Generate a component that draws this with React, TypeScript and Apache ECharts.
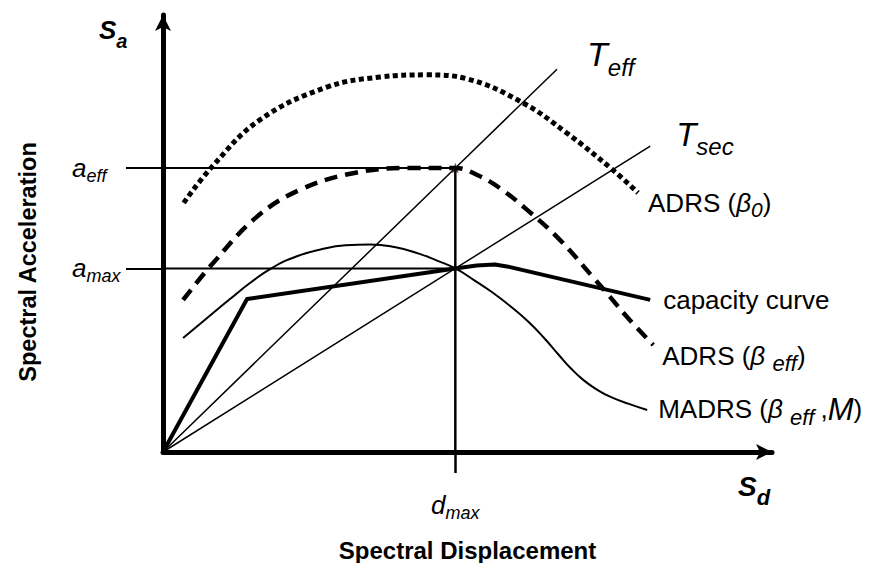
import React, { useEffect, useRef } from 'react';
import * as echarts from 'echarts';

// key values (schematic units)
const dMax = 48;
const aEff = 65;
const aMax = 42;

const adrsB0: [number, number][] = [
  [3.4, 57.0], [8.0, 65.2], [15.9, 76.0], [26.9, 83.5], [35.6, 85.8], [43.3, 86.3],
  [49.9, 85.4], [59.1, 79.9], [66.3, 73.0], [73.9, 64.5], [78.0, 59.3],
];
const adrsBeff: [number, number][] = [
  [3.3, 34.8], [8.2, 43.2], [15.4, 53.8], [22.5, 60.0], [31.2, 63.8], [40.6, 65.0],
  [48, 65], [51.6, 63.4], [55.3, 60.4], [59.8, 55.4], [65.2, 48.5], [70.6, 40.0],
  [73.4, 35.5], [76.2, 30.9], [80.5, 24.5],
];
const madrs: [number, number][] = [
  [3.3, 26.1], [7, 30.4], [11, 35.0], [14.5, 38.9], [18, 42.2], [22, 44.8], [26, 46.4],
  [30, 47.3], [34, 47.5], [38, 46.9], [42, 45.4], [45, 43.8], [48, 42], [51, 39.4],
  [54, 36.6], [57, 33.4], [60, 29.8], [62.5, 26.2], [65, 22.2], [67, 19.1], [69, 16.5],
  [71, 14.5], [73.5, 12.6], [76.5, 11.0], [79.5, 9.6],
];
const capacity: [number, number][] = [
  [0, 0], [13.8, 35.0], [48, 42], [51.5, 42.7], [54.5, 42.9], [57, 42.3], [80.0, 34.8],
];
const tEffLine: [number, number][] = [[0, 0], [48, 65], [64.7, 87.6]];
const tSecLine: [number, number][] = [[0, 0], [48, 42], [80, 70]];
const dMaxLine: [number, number][] = [[dMax, 0], [dMax, aEff]];
const aEffLine: [number, number][] = [[0, aEff], [dMax, aEff]];
const aMaxLine: [number, number][] = [[0, aMax], [dMax, aMax]];
const perfPoint: [number, number][] = [[dMax, aEff]];

const FONT = 'Liberation Sans, Arial, sans-serif';

const richSub = (mainSize: number, subSize: number, italicMain: boolean, drop: number) => ({
  m: { fontFamily: FONT, fontSize: mainSize, fontStyle: italicMain ? 'italic' : 'normal', color: '#000' },
  n: { fontFamily: FONT, fontSize: mainSize, color: '#000' },
  g: { fontFamily: FONT, fontSize: mainSize, fontStyle: 'italic', color: '#000' },
  M: { fontFamily: FONT, fontSize: mainSize + 5, fontStyle: 'italic', color: '#000' },
  s: { fontFamily: FONT, fontSize: subSize, fontStyle: 'italic', color: '#000', padding: [drop * 2, 0, 0, 0] },
});

function lineSeries(data: [number, number][], width: number, type: any, extra: any = {}) {
  return {
    type: 'line',
    data,
    symbol: 'none',
    silent: true,
    lineStyle: { color: '#000', width, type, cap: 'butt', join: 'round' },
    ...extra,
  };
}

export default function App() {
  const ref = useRef<HTMLDivElement>(null);
  useEffect(() => {
    if (!ref.current) return;
    const chart = echarts.init(ref.current, undefined, { renderer: 'svg' });
    chart.setOption({
      animation: false,
      backgroundColor: '#fff',
      grid: { left: 163, right: 110, top: 15, bottom: 111, containLabel: false, outerBoundsMode: 'none' },
      xAxis: {
        type: 'value', min: 0, max: 100,
        name: 'Spectral Displacement', nameLocation: 'middle', nameGap: 86,
        nameTextStyle: { fontFamily: FONT, fontSize: 24, fontWeight: 'bold', color: '#000' },
        axisLine: { show: true, lineStyle: { color: '#000', width: 5 }, symbol: ['none', 'arrow'], symbolSize: [12, 16] },
        axisTick: { show: true, customValues: [dMax], length: 21, lineStyle: { color: '#000', width: 2.5 } },
        axisLabel: {
          show: true, customValues: [dMax], margin: 36,
          formatter: () => '{m|d}{s|max}',
          rich: richSub(26, 18, true, 8),
        },
        splitLine: { show: false },
      },
      yAxis: {
        type: 'value', min: 0, max: 100,
        axisLine: { show: true, lineStyle: { color: '#000', width: 5 }, symbol: ['none', 'arrow'], symbolSize: [12, 16] },
        axisTick: { show: true, customValues: [aMax, aEff], length: 37, lineStyle: { color: '#000', width: 2 } },
        axisLabel: {
          show: true, customValues: [aMax, aEff], margin: 91, align: 'left',
          formatter: (v: number) => (v === aEff ? '{m|a}{s|eff}' : '{m|a}{s|max}'),
          rich: richSub(26, 18, true, 8),
        },
        splitLine: { show: false },
      },
      graphic: [
        {
          type: 'text', left: 99, top: 17,
          style: {
            text: '{m|S}{s|a}',
            rich: {
              m: { fontFamily: FONT, fontSize: 26, fontWeight: 'bold', fontStyle: 'italic', fill: '#000' },
              s: { fontFamily: FONT, fontSize: 20, fontWeight: 'bold', fontStyle: 'italic', fill: '#000', padding: [22, 0, 0, 0] },
            },
          },
        },
        {
          type: 'text', left: 738, top: 472,
          style: {
            text: '{m|S}{s|d}',
            rich: {
              m: { fontFamily: FONT, fontSize: 28, fontWeight: 'bold', fontStyle: 'italic', fill: '#000' },
              s: { fontFamily: FONT, fontSize: 22, fontWeight: 'bold', fontStyle: 'italic', fill: '#000', padding: [22, 0, 0, 0] },
            },
          },
        },
        {
          type: 'text', x: 28, y: 262, rotation: Math.PI / 2,
          style: {
            text: 'Spectral Acceleration', fontFamily: FONT, fontSize: 23.5, fontWeight: 'bold', fill: '#000',
            align: 'center', verticalAlign: 'middle',
          },
        },
      ],
      series: [
        lineSeries(aEffLine, 2, 'solid'),
        lineSeries(aMaxLine, 2, 'solid'),
        lineSeries(dMaxLine, 2.5, 'solid'),
        lineSeries(tEffLine, 1.5, 'solid', {
          endLabel: { show: true, formatter: '{m|T}{s|eff}', distance: 30, offset: [0, -15], rich: richSub(34, 24, true, 13) },
        }),
        lineSeries(tSecLine, 1.5, 'solid', {
          endLabel: { show: true, formatter: '{m|T}{s|sec}', distance: 26, offset: [0, -12], rich: richSub(33, 24, true, 12) },
        }),
        lineSeries(madrs, 2, 'solid', {
          smooth: 0.5,
          endLabel: { show: true, formatter: '{n|MADRS (}{g|β }{s|eff }{n|,}{M|M}{n|)}', distance: 11, offset: [0, -1], rich: richSub(26, 22, false, 8) },
        }),
        lineSeries(adrsBeff, 4.5, [13, 8], {
          smooth: 0.4,
          endLabel: { show: true, formatter: '{n|ADRS (}{g|β }{s|eff}{n|)}', distance: 9, offset: [0, 11], rich: richSub(26, 22, false, 8) },
        }),
        lineSeries(adrsB0, 5, [5, 3.5], {
          smooth: 0.4,
          endLabel: { show: true, formatter: '{n|ADRS (}{g|β}{s|0}{n|)}', distance: 10, offset: [0, 10], rich: richSub(26, 21, false, 7) },
        }),
        lineSeries(capacity, 4, 'solid', {
          endLabel: { show: true, formatter: 'capacity curve', distance: 13, offset: [0, 0], color: '#000', fontFamily: FONT, fontSize: 26 },
        }),
        {
          type: 'scatter', data: perfPoint, silent: true,
          symbol: 'path://M50,0 L61,35 L98,35 L68,57 L79,91 L50,70 L21,91 L32,57 L2,35 L39,35 Z',
          symbolSize: 11, itemStyle: { color: '#5a1a10' },
        },
      ],
    });
    return () => chart.dispose();
  }, []);
  return <div ref={ref} style={{ position: 'fixed', left: 0, top: 0, width: 882, height: 563 }} />;
}
